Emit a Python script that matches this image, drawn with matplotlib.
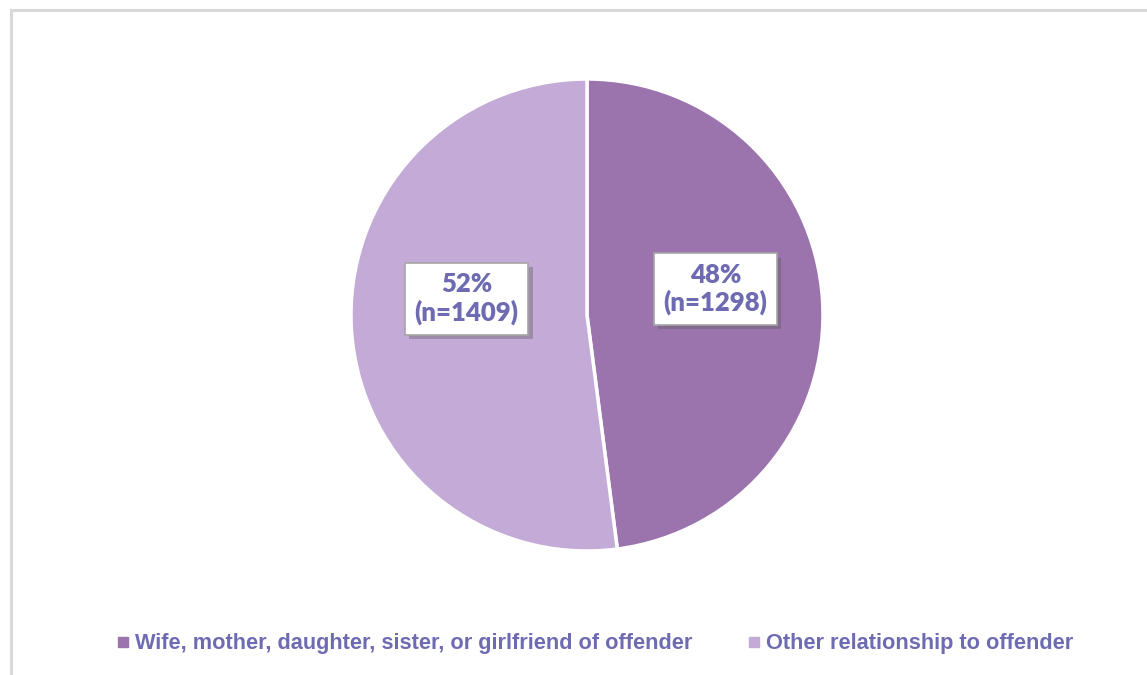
import matplotlib.pyplot as plt
import matplotlib.patheffects as pe
from matplotlib.lines import Line2D
from matplotlib.font_manager import fontManager

# Data
categories = ['Wife, mother, daughter, sister, or girlfriend of offender',
              'Other relationship to offender']
counts = [1298, 1409]
percents = [48, 52]
colors = ['#9B74AE', '#C4AAD6']
text_color = '#6E6BB2'

names = {f.name for f in fontManager.ttflist}
legend_font = ['Liberation Sans Narrow', 'Liberation Sans', 'DejaVu Sans']
legend_font = [f for f in legend_font if f in names] or ['DejaVu Sans']

W, H = 1147, 675
fig = plt.figure(figsize=(W / 100, H / 100), dpi=100)

# light frame (top and left edges visible)
fig.add_artist(Line2D([11 / W, 1.0], [1 - 10 / H, 1 - 10 / H], color='#D9D9D9', lw=2.2))
fig.add_artist(Line2D([11 / W, 11 / W], [0, 1 - 10 / H], color='#D9D9D9', lw=2.2))

# pie: center (587, 315) px, radius 236 px
cx, cy, r = 587, 315, 236
ax = fig.add_axes([(cx - r) / W, (H - cy - r) / H, 2 * r / W, 2 * r / H])
ax.pie(counts, colors=colors, startangle=90, counterclock=False, radius=1,
       wedgeprops=dict(edgecolor='white', linewidth=2.5))
ax.set_xlim(-1, 1)
ax.set_ylim(-1, 1)
ax.set_aspect('equal')
ax.axis('off')

label_pos = [(0.545, 0.11), (-0.51, 0.07)]
for (x, y), p, n in zip(label_pos, percents, counts):
    t = ax.text(x, y, f'{p}%\n(n={n})', ha='center', va='center',
                fontsize=18.5, fontweight='heavy', color=text_color,
                family=['Lato', 'DejaVu Sans'], linespacing=1.15,
                bbox=dict(boxstyle='square,pad=0.38', facecolor='white',
                          edgecolor='#A6A6A6', linewidth=1.2))
    t.get_bbox_patch().set_path_effects([
        pe.SimplePatchShadow(offset=(3, -3), shadow_rgbFace='#555555', alpha=0.35),
        pe.Normal()])

handles = [Line2D([], [], marker='s', linestyle='none', markersize=6.5,
                  markerfacecolor=c, markeredgecolor=c) for c in colors]
leg = fig.legend(handles, categories, loc='center', bbox_to_anchor=(594 / W, 1 - 644 / H),
                 ncol=2, frameon=False, handletextpad=0.15, columnspacing=2.45,
                 handlelength=0.8, prop=dict(family=legend_font, weight='bold', size=15.7))
for txt in leg.get_texts():
    txt.set_color(text_color)

fig.savefig('out.png', dpi=100, facecolor='white')
